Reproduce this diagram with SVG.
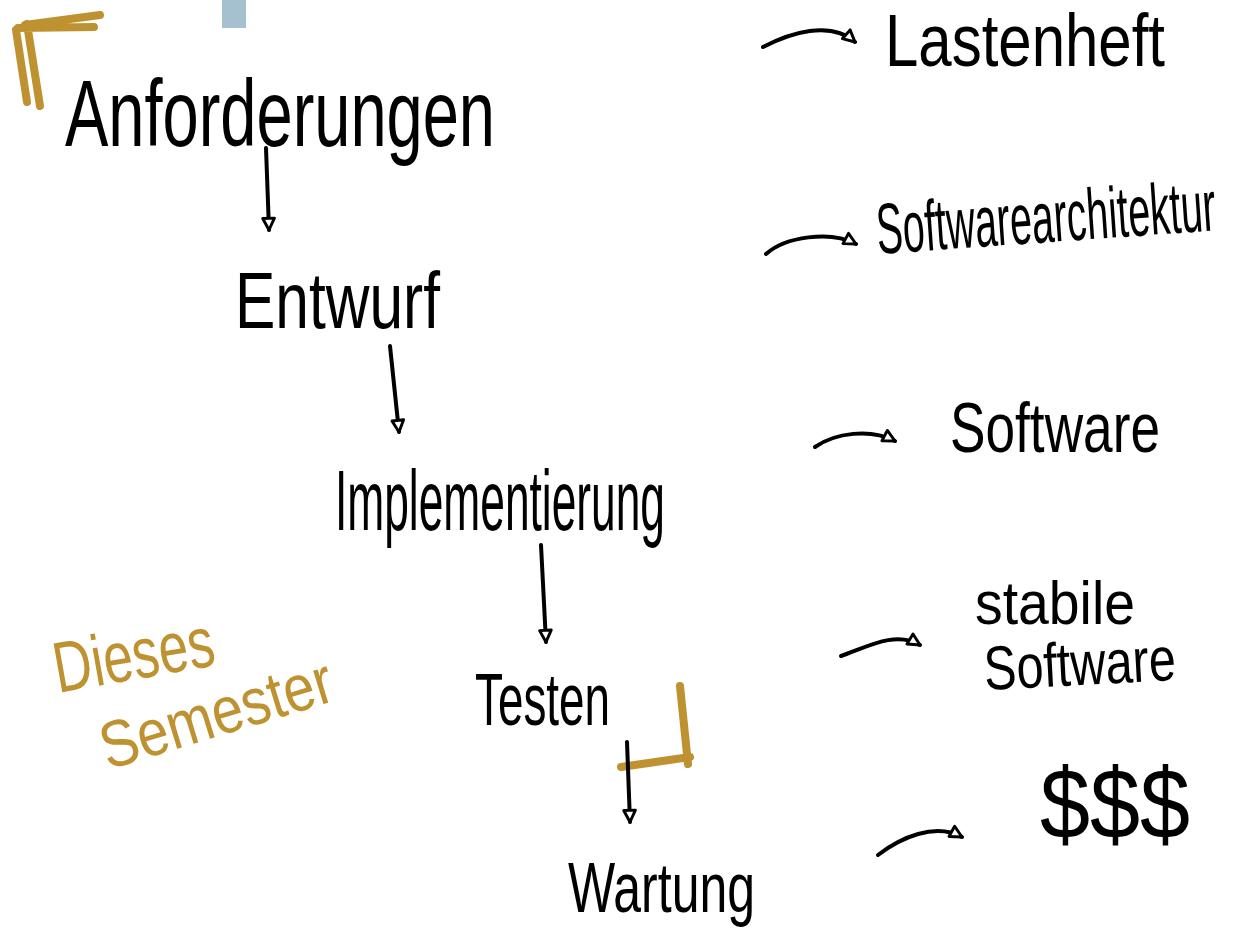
<svg xmlns="http://www.w3.org/2000/svg" width="1242" height="949" viewBox="0 0 1242 949">
<defs>
<style>
.t{font-family:"Liberation Sans","DejaVu Sans",sans-serif;fill:#000}
.g{font-family:"Liberation Sans","DejaVu Sans",sans-serif;fill:#BE9230}
.ln{fill:none;stroke:#000;stroke-width:4;stroke-linecap:round;stroke-linejoin:round}
.gb{fill:none;stroke:#BE9230;stroke-width:8;stroke-linecap:round;stroke-linejoin:round}
</style>
<marker id="tri" viewBox="-4 -4 24 24" refX="14" refY="8" markerWidth="20" markerHeight="20" orient="auto" markerUnits="userSpaceOnUse">
<path d="M0,1 L14,8 L0,15 Z" fill="#fff" stroke="#000" stroke-width="3.5" stroke-linejoin="round"/>
</marker>
</defs>
<rect width="1242" height="949" fill="#fff"/>
<rect x="222" y="0" width="24" height="28" fill="#8FB2C4" opacity="0.8"/>
<g id="bracket-top"><path class="gb" d="M16,30 L27,102 M27,24 L40,106 M25,25 L100,15 M18,28 L94,27"/></g>
<g id="bracket-testen"><path class="gb" d="M680,686 L688,764 M621,767 L690,757"/></g>
<g id="connectors">
<path class="ln" d="M266,148 L269,230" marker-end="url(#tri)"/>
<path class="ln" d="M390,346 L399,432" marker-end="url(#tri)"/>
<path class="ln" d="M541,545 L546,642" marker-end="url(#tri)"/>
<path class="ln" d="M627,742 L630,822" marker-end="url(#tri)"/>
<path class="ln" d="M763,47 C790,33 830,20 855,42" marker-end="url(#tri)"/>
<path class="ln" d="M766,254 C785,237 830,230 856,244" marker-end="url(#tri)"/>
<path class="ln" d="M815,447 C835,433 870,428 895,441" marker-end="url(#tri)"/>
<path class="ln" d="M841,656 C865,648 895,630 920,645" marker-end="url(#tri)"/>
<path class="ln" d="M878,855 C900,838 935,822 962,837" marker-end="url(#tri)"/>
</g>
<g id="anforderungen"><text class="t" x="65" y="146" font-size="95" textLength="430" lengthAdjust="spacingAndGlyphs">Anforderungen</text></g>
<g id="entwurf"><text class="t" x="235" y="328" font-size="80" textLength="205" lengthAdjust="spacingAndGlyphs">Entwurf</text></g>
<g id="implementierung"><text class="t" x="335" y="530" font-size="85" textLength="330" lengthAdjust="spacingAndGlyphs">Implementierung</text></g>
<g id="testen"><text class="t" x="475" y="725" font-size="75" textLength="135" lengthAdjust="spacingAndGlyphs">Testen</text></g>
<g id="wartung"><text class="t" x="568" y="912" font-size="70" textLength="187" lengthAdjust="spacingAndGlyphs">Wartung</text></g>
<g id="lastenheft"><text class="t" x="885" y="66" font-size="74" textLength="280" lengthAdjust="spacingAndGlyphs">Lastenheft</text></g>
<g id="softwarearchitektur"><text class="t" x="0" y="0" font-size="40" textLength="340" lengthAdjust="spacingAndGlyphs" transform="translate(878 254) rotate(-4) scale(1 1.8)">Softwarearchitektur</text></g>
<g id="software"><text class="t" x="950" y="452" font-size="70" textLength="210" lengthAdjust="spacingAndGlyphs">Software</text></g>
<g id="stabile-software">
<text class="t" x="975" y="624" font-size="62" textLength="160" lengthAdjust="spacingAndGlyphs">stabile</text>
<text class="t" x="985" y="690" font-size="62" textLength="192" lengthAdjust="spacingAndGlyphs" transform="rotate(-3 985 690)">Software</text>
</g>
<g id="dollars"><text class="t" x="1040" y="838" font-size="100" textLength="150" lengthAdjust="spacingAndGlyphs">$$$</text></g>
<g id="dieses-semester">
<text class="g" x="58" y="693" font-size="72" textLength="162" lengthAdjust="spacingAndGlyphs" transform="rotate(-10 58 693)">Dieses</text>
<text class="g" x="108" y="770" font-size="66" textLength="240" lengthAdjust="spacingAndGlyphs" transform="rotate(-17 108 770)">Semester</text>
</g>
</svg>
